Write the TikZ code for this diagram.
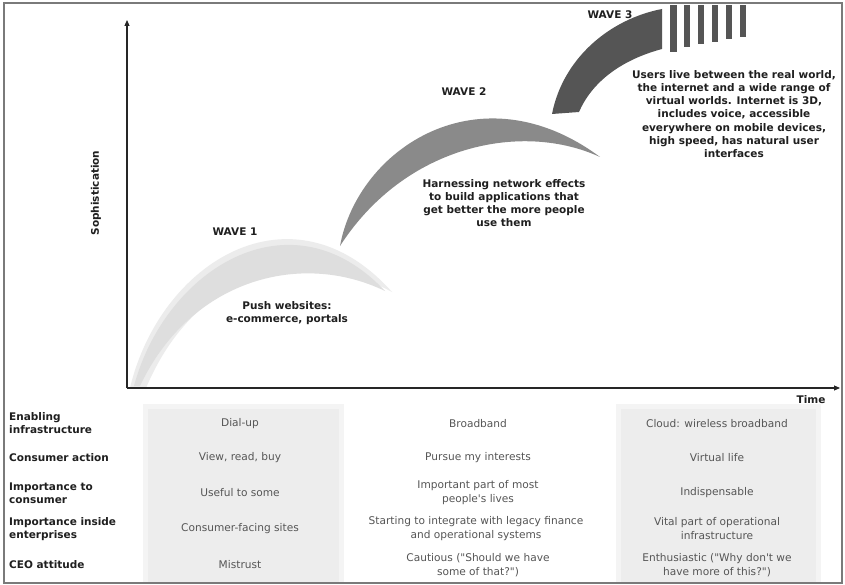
\documentclass[tikz,border=0pt]{standalone}
\usepackage{fontspec}
\setmainfont{DejaVu Sans}[Ligatures=TeXOff]
\usetikzlibrary{arrows.meta}
\definecolor{wavea}{HTML}{DEDEDE}
\definecolor{waveasoft}{HTML}{ECECEC}
\definecolor{waveb}{HTML}{8A8A8A}
\definecolor{wavec}{HTML}{555555}
\definecolor{colshade}{HTML}{EDEDED}
\definecolor{colsoft}{HTML}{F4F4F4}
\definecolor{celltext}{HTML}{555555}
\definecolor{frame}{HTML}{7A7A7A}
\begin{document}
\begin{tikzpicture}[x=1pt,y=-1pt,
  boldtext/.style={font=\bfseries\fontsize{10.5}{13.2}\selectfont, text=black!88, inner sep=0pt, align=center},
  rowlabel/.style={font=\bfseries\fontsize{10.5}{13}\selectfont, text=black!88, inner sep=0pt, align=left, anchor=west},
  cell/.style={font=\fontsize{10.6}{14}\selectfont, text=celltext, inner sep=0pt, align=center},
  axis/.style={line width=1.1pt, draw=black!85, -{Triangle[length=6pt,width=5pt]}},
  stripe/.style={fill=wavec, draw=none}]
\useasboundingbox (0,0) rectangle (845,585);
\fill[white] (0,0) rectangle (845,585);

% shaded table columns
\fill[colsoft] (143,404) rectangle (344,583);
\fill[colshade] (148,409) rectangle (339,583);
\fill[colsoft] (616,404) rectangle (821,583);
\fill[colshade] (621,409) rectangle (816,583);

% wave 1 (soft light gray)
\fill[waveasoft] (130,388) .. controls (160,262) and (292,180) .. (392,292)
  .. controls (300,242) and (195,272) .. (146,388) -- cycle;
\fill[wavea] (134,386) .. controls (165,270) and (290,190) .. (385,291)
  .. controls (300,250) and (190,280) .. (140,386) -- cycle;

% wave 2
\fill[waveb] (340,246) .. controls (358,148) and (480,68) .. (600,157)
  .. controls (522,121) and (405,145) .. (340,246) -- cycle;

% wave 3
\fill[wavec] (552,114) .. controls (563,58) and (610,19) .. (662,9)
  -- (662,49) .. controls (621,60) and (592,82) .. (579,112) -- cycle;
\fill[stripe] (670,5) rectangle (677,52);
\fill[stripe] (684,5) rectangle (690,47);
\fill[stripe] (698,5) rectangle (704,44);
\fill[stripe] (712,5) rectangle (718,42);
\fill[stripe] (726,5) rectangle (732,39);
\fill[stripe] (740,5) rectangle (746,37);

% frame
\draw[frame, line width=1.3pt] (4,3) rectangle (842,583);

% axes
\coordinate (origin) at (127,388);
\coordinate (ytop) at (127,20);
\coordinate (xend) at (840,388);
\draw[axis] (origin) -- (ytop);
\draw[axis] (origin) -- (xend);
\node[boldtext, rotate=90] (soph) at (96,193) {Sophistication};
\node[boldtext] (time) at (811,400) {Time};

% wave labels
\node[boldtext] (w1) at (235,232) {WAVE 1};
\node[boldtext] (w2) at (464,92) {WAVE 2};
\node[boldtext] (w3) at (610,15) {WAVE 3};
\node[boldtext] (t1) at (287,313) {Push websites:\\e-commerce, portals};
\node[boldtext] (t2) at (504,203) {Harnessing network effects\\to build applications that\\get better the more people\\use them};
\node[boldtext] (t3) at (734,114) {Users live between the real world,\\the internet and a wide range of\\virtual worlds. Internet is 3D,\\includes voice, accessible\\everywhere on mobile devices,\\high speed, has natural user\\interfaces};

% row labels
\node[rowlabel] (r1) at (9,423) {Enabling\\infrastructure};
\node[rowlabel] (r2) at (9,458) {Consumer action};
\node[rowlabel] (r3) at (9,493) {Importance to\\consumer};
\node[rowlabel] (r4) at (9,529) {Importance inside\\enterprises};
\node[rowlabel] (r5) at (9,565) {CEO attitude};

% column 1
\node[cell] (a1) at (240,424) {Dial-up};
\node[cell] (a2) at (240,458) {View, read, buy};
\node[cell] (a3) at (240,493) {Useful to some};
\node[cell] (a4) at (240,529) {Consumer-facing sites};
\node[cell] (a5) at (240,565) {Mistrust};

% column 2
\node[cell] (b1) at (478,424) {Broadband};
\node[cell] (b2) at (478,458) {Pursue my interests};
\node[cell] (b3) at (478,493) {Important part of most\\people's lives};
\node[cell] (b4) at (476,529) {Starting to integrate with legacy finance\\and operational systems};
\node[cell] (b5) at (478,565) {Cautious ("Should we have\\some of that?")};

% column 3
\node[cell] (c1) at (717,424) {Cloud: wireless broadband};
\node[cell] (c2) at (717,458) {Virtual life};
\node[cell] (c3) at (717,493) {Indispensable};
\node[cell] (c4) at (717,529) {Vital part of operational\\infrastructure};
\node[cell] (c5) at (717,565) {Enthusiastic ("Why don't we\\have more of this?")};
\end{tikzpicture}
\end{document}
